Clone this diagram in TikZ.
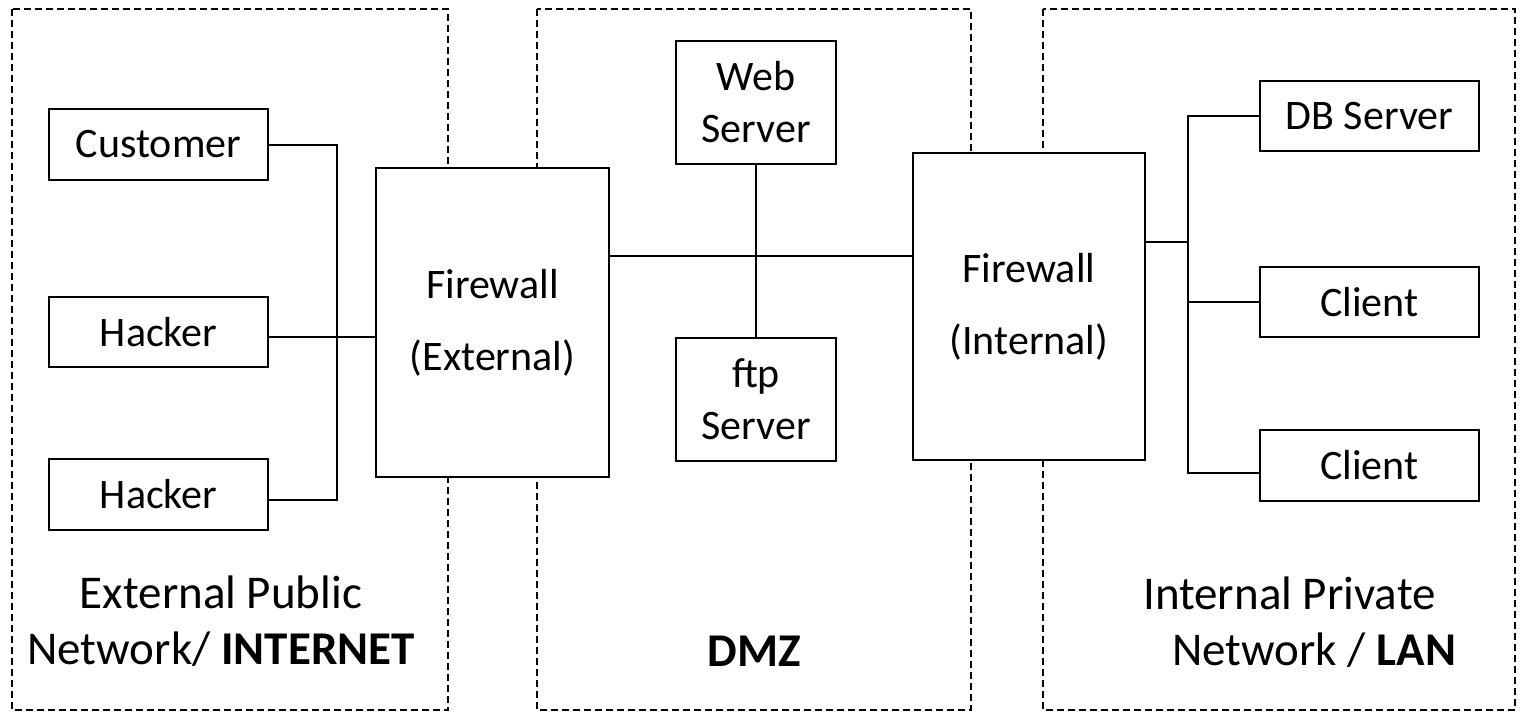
\documentclass[tikz,border=0pt]{standalone}
\usepackage{fontspec}
\setmainfont{Carlito}

\begin{document}
\begin{tikzpicture}[x=1pt, y=-1pt,
    zone/.style={draw, line width=1.3pt, dash pattern=on 7pt off 4pt},
    box/.style={rectangle, draw, fill=white, line width=2pt, inner sep=0pt, align=center, font=\fontsize{42}{52}\selectfont},
    zonelabel/.style={inner sep=0pt, font=\fontsize{47}{56}\selectfont},
    link/.style={line width=2pt}]
    \useasboundingbox (0,0) rectangle (1524,720);

    % Zones
    \draw[zone] (12,9) rectangle (448,710);
    \draw[zone] (537,9) rectangle (971,710);
    \draw[zone] (1043,9) rectangle (1515,710);

    % Internet side
    \node[box, minimum width=219pt, minimum height=71pt] (cust) at (158.5,144.5) {Customer};
    \node[box, minimum width=219pt, minimum height=70pt] (hack1) at (158.5,332) {Hacker};
    \node[box, minimum width=219pt, minimum height=71pt] (hack2) at (158.5,494.5) {Hacker};
    \node[box, minimum width=233pt, minimum height=309pt] (fwext) at (492.5,322.5) {Firewall\\[20pt](External)};

    % DMZ
    \node[box, minimum width=160pt, minimum height=123pt] (web) at (756,102.5) {Web\\Server};
    \node[box, minimum width=160pt, minimum height=123pt] (ftp) at (756,399.5) {ftp\\Server};

    % LAN side
    \node[box, minimum width=232pt, minimum height=307pt] (fwint) at (1029,306.5) {Firewall\\[20pt](Internal)};
    \node[box, minimum width=219pt, minimum height=70pt] (db) at (1369.5,116) {DB Server};
    \node[box, minimum width=219pt, minimum height=70pt] (cl1) at (1369.5,302) {Client};
    \node[box, minimum width=219pt, minimum height=71pt] (cl2) at (1369.5,465.5) {Client};

    % Bus points
    \coordinate (inbus) at (337,500);
    \coordinate (hackrow) at (0,337);
    \coordinate (dmzbus) at (753,256);
    \coordinate (lanbus) at (1188,242);
    \coordinate (lanend) at (1188,473);

    % Links
    \draw[link] (cust.east) -| (inbus) -- (inbus -| hack2.east);
    \draw[link] (hackrow -| hack1.east) -- (hackrow -| fwext.west);
    \draw[link] (dmzbus -| fwext.east) -- (dmzbus -| fwint.west);
    \draw[link] (web) -- (ftp);
    \draw[link] (lanbus -| fwint.east) -- (lanbus);
    \draw[link] (db.west) -| (lanend) -- (lanend -| cl2.west);
    \draw[link] (cl1.west) -- (cl1.west -| lanbus);

    % Zone labels
    \node[zonelabel, align=center] (inlabel) at (221,621) {External Public\\Network/ \textbf{INTERNET}};
    \node[zonelabel, anchor=base] (dmzlabel) at (754,666) {\textbf{DMZ}};
    \node[zonelabel, align=left, anchor=west] (lanlabel) at (1143,622) {Internal Private\\\hspace*{29pt}Network / \textbf{LAN}};
\end{tikzpicture}
\end{document}
